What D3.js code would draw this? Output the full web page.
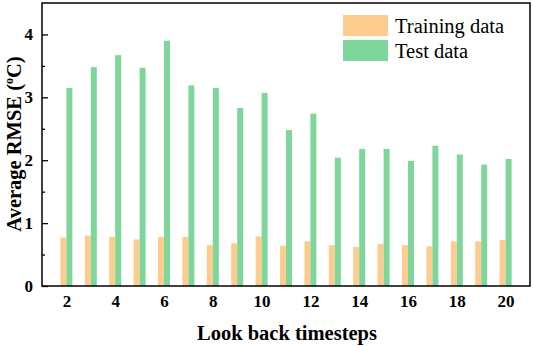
<!DOCTYPE html>
<html><head><meta charset="utf-8">
<script src="https://cdn.jsdelivr.net/npm/d3@7"></script>
<style>body{margin:0;background:#fff}svg{display:block}text{font-family:"Liberation Serif","Times New Roman",serif}</style>
</head><body><svg id="c" width="533" height="346"></svg>
<script>
const steps = [2,3,4,5,6,7,8,9,10,11,12,13,14,15,16,17,18,19,20];
const trainRMSE = [0.77,0.80,0.78,0.74,0.78,0.78,0.65,0.68,0.79,0.64,0.71,0.65,0.62,0.67,0.65,0.63,0.71,0.71,0.73];
const testRMSE  = [3.15,3.48,3.67,3.47,3.90,3.19,3.15,2.83,3.07,2.48,2.74,2.04,2.18,2.18,1.99,2.23,2.09,1.93,2.02];
const xTicks = [2,4,6,8,10,12,14,16,18,20];
const yTicks = [0,1,2,3,4];
const yMinor = [0.5,1.5,2.5,3.5];
const seriesNames = ["Training data","Test data"];
const colors = ["#FFCC8F","#7ED69B"];

const svg = d3.select("#c");
const L=42, R=530, T=3, B=286;
const x = d3.scaleLinear().domain([1,21]).range([L,R]);
const y = d3.scaleLinear().domain([0,4.5]).range([B,T]);
const bw = 6;

const g = svg.append("g");
g.selectAll("rect.tr").data(steps).join("rect")
  .attr("x", d=>x(d)-bw).attr("width", bw)
  .attr("y", (d,i)=>y(trainRMSE[i])).attr("height",(d,i)=>B-y(trainRMSE[i]))
  .attr("fill", colors[0]);
g.selectAll("rect.te").data(steps).join("rect")
  .attr("x", d=>x(d)).attr("width", bw)
  .attr("y", (d,i)=>y(testRMSE[i])).attr("height",(d,i)=>B-y(testRMSE[i]))
  .attr("fill", colors[1]);

// frame
svg.append("rect").attr("x",L).attr("y",T).attr("width",R-L).attr("height",B-T)
  .attr("fill","none").attr("stroke","#000").attr("stroke-width",1.5);

// y axis ticks inward
const ya = svg.append("g").attr("transform",`translate(${L},0)`)
  .call(d3.axisLeft(y).tickValues(yTicks).tickSizeInner(-6).tickSizeOuter(0).tickPadding(9).tickFormat(d3.format("d")));
ya.select(".domain").remove();
ya.selectAll("line").attr("stroke","#000").attr("stroke-width",1.3);
ya.selectAll("text").attr("font-size",17).attr("font-weight","bold").attr("font-family","Liberation Serif, serif").attr("fill","#000");
const ym = svg.append("g").attr("transform",`translate(${L},0)`)
  .call(d3.axisLeft(y).tickValues(yMinor).tickSizeInner(-3).tickSizeOuter(0).tickFormat(""));
ym.select(".domain").remove();
ym.selectAll("line").attr("stroke","#000").attr("stroke-width",1.3);

// x axis labels
const xa = svg.append("g").attr("transform",`translate(0,${B})`)
  .call(d3.axisBottom(x).tickValues(xTicks).tickSize(0).tickPadding(9).tickFormat(d3.format("d")));
xa.select(".domain").remove();
xa.selectAll("text").attr("font-size",17).attr("font-weight","bold").attr("font-family","Liberation Serif, serif").attr("fill","#000");

// titles
svg.append("text").attr("x",(L+R)/2+1).attr("y",340).attr("text-anchor","middle")
  .attr("font-size",20.5).attr("font-weight","bold").text("Look back timesteps");
const yt = svg.append("text").attr("transform","translate(21,144) rotate(-90)").attr("text-anchor","middle")
  .attr("font-size",20.5).attr("font-weight","bold");
yt.append("tspan").text("Average RMSE (");
yt.append("tspan").attr("font-size",12).attr("dy",-8).text("o");
yt.append("tspan").attr("dy",8).text("C)");

// legend
const lg = svg.append("g");
seriesNames.forEach((n,i)=>{
  lg.append("rect").attr("x",343).attr("y",15+i*25).attr("width",45).attr("height",21).attr("fill",colors[i]);
  lg.append("text").attr("x",395).attr("y",33+i*25).attr("font-size",20.5).attr("fill","#000").text(n);
});
</script></body></html>
